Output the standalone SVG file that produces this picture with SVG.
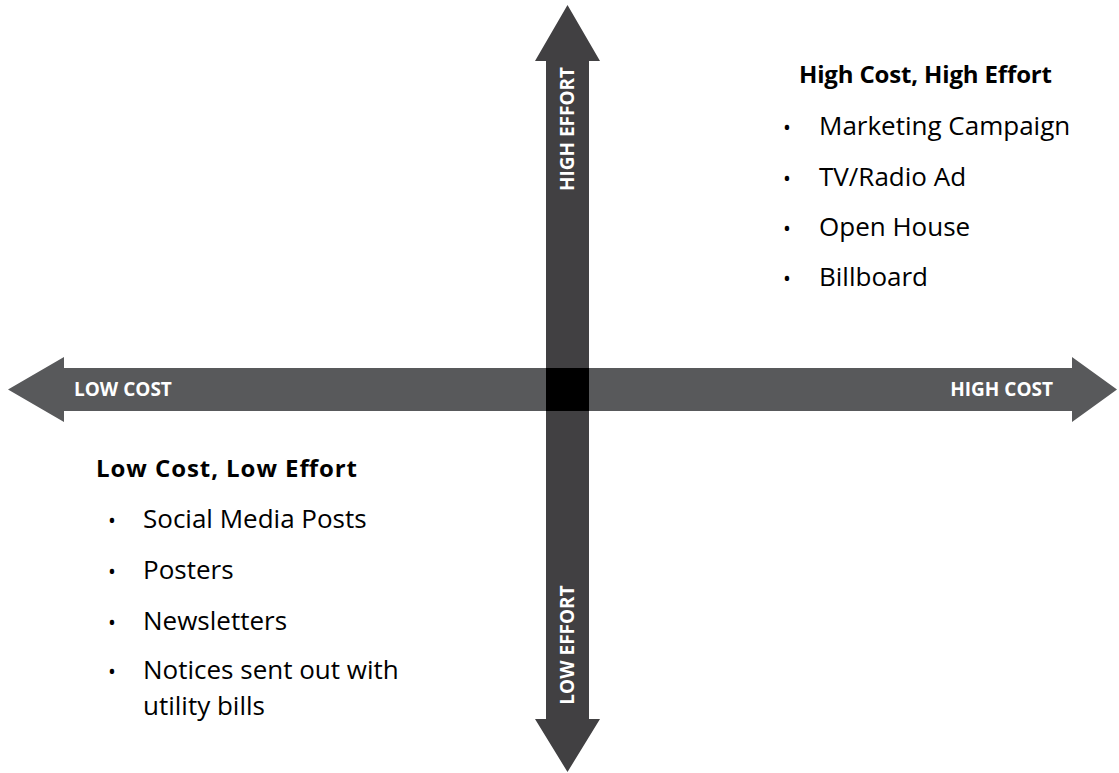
<svg xmlns="http://www.w3.org/2000/svg" width="1119" height="773" viewBox="0 0 1119 773">
  <style>
    .axis-label { font-family: "Open Sans", "Liberation Sans", sans-serif; font-weight: 700; font-size: 19px; fill: #ffffff; }
    .heading { font-family: "Open Sans", "Liberation Sans", sans-serif; font-weight: 700; font-size: 24px; fill: #000000; }
    .item { font-family: "Open Sans", "Liberation Sans", sans-serif; font-size: 26px; fill: #000000; }
    .bullet { font-family: "Open Sans", "Liberation Sans", sans-serif; font-size: 21px; fill: #000000; }
  </style>
  <rect width="1119" height="773" fill="#ffffff"/>

  <g id="connectors">
    <!-- horizontal cost axis, double-headed -->
    <polygon id="cost-axis" fill="#58595b"
      points="8,389.5 64,357 64,368 1072,368 1072,357 1117,389.5 1072,422 1072,411 64,411 64,422"/>
    <!-- vertical effort axis, double-headed -->
    <polygon id="effort-axis" fill="#414042"
      points="567.5,5 600,61 589,61 589,719 600,719 567.5,772 535,719 546,719 546,61 535,61"/>
    <!-- crossing of the two axes -->
    <rect x="546" y="368" width="43" height="43" fill="#000000"/>
  </g>

  <g id="axis-labels">
    <text class="axis-label" x="74" y="396">LOW COST</text>
    <text class="axis-label" x="1053" y="396" text-anchor="end">HIGH COST</text>
    <text class="axis-label" transform="translate(574,129) rotate(-90)" text-anchor="middle">HIGH EFFORT</text>
    <text class="axis-label" transform="translate(574,645) rotate(-90)" text-anchor="middle">LOW EFFORT</text>
  </g>

  <g id="high-cost-high-effort">
    <text class="heading" x="799" y="83" textLength="253">High Cost, High Effort</text>
    <text class="bullet" x="783" y="135">•</text>
    <text class="item" x="819" y="135">Marketing Campaign</text>
    <text class="bullet" x="783" y="186">•</text>
    <text class="item" x="819" y="186">TV/Radio Ad</text>
    <text class="bullet" x="783" y="236">•</text>
    <text class="item" x="819" y="236">Open House</text>
    <text class="bullet" x="783" y="286">•</text>
    <text class="item" x="819" y="286">Billboard</text>
  </g>

  <g id="low-cost-low-effort">
    <text class="heading" x="96" y="477" textLength="261">Low Cost, Low Effort</text>
    <text class="bullet" x="108" y="528">•</text>
    <text class="item" x="143" y="528">Social Media Posts</text>
    <text class="bullet" x="108" y="579">•</text>
    <text class="item" x="143" y="579">Posters</text>
    <text class="bullet" x="108" y="630">•</text>
    <text class="item" x="143" y="630">Newsletters</text>
    <text class="bullet" x="108" y="679">•</text>
    <!-- wrapped item: two lines in one text element -->
    <text class="item"><tspan x="143" y="679">Notices sent out with</tspan><tspan x="143" y="715">utility bills</tspan></text>
  </g>
</svg>
